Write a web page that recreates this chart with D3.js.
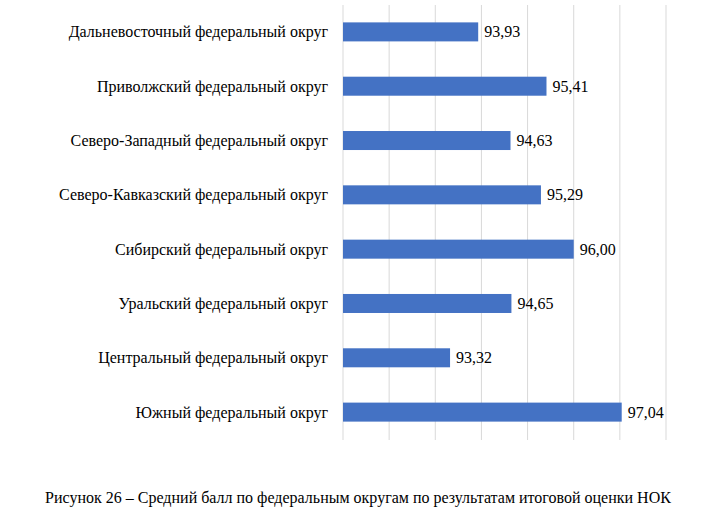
<!DOCTYPE html>
<html><head><meta charset="utf-8">
<script src="https://cdn.jsdelivr.net/npm/d3@7"></script>
<style>body{margin:0;background:#fff}text{font-family:'Liberation Serif',Tinos,'DejaVu Serif',serif;fill:#000}</style>
</head><body><svg id="c" width="722" height="532"></svg>
<script>
const regions = ["Дальневосточный федеральный округ","Приволжский федеральный округ","Северо-Западный федеральный округ","Северо-Кавказский федеральный округ","Сибирский федеральный округ","Уральский федеральный округ","Центральный федеральный округ","Южный федеральный округ"];
const scores = [93.93,95.41,94.63,95.29,96.00,94.65,93.32,97.04];
const ticks = [91,92,93,94,95,96,97,98];

const svg = d3.select("#c");
const x = d3.scaleLinear().domain([91,98]).range([343,666]);
const y = d3.scaleBand().domain(regions).range([5,439]).paddingInner(0.65).paddingOuter(0.32);

// grid
svg.selectAll("line.g").data(ticks).join("line")
  .attr("x1",d=>x(d)).attr("x2",d=>x(d)).attr("y1",5).attr("y2",440)
  .attr("stroke","#d9d9d9").attr("stroke-width",1);

svg.selectAll("rect").data(regions).join("rect")
  .attr("x",x(91)).attr("y",d=>y(d)).attr("height",y.bandwidth())
  .attr("width",(d,i)=>x(scores[i])-x(91)).attr("fill","#4472c4");

svg.selectAll("text.v").data(regions).join("text")
  .attr("x",(d,i)=>x(scores[i])+6).attr("y",d=>y(d)+y.bandwidth()/2)
  .attr("dy","0.35em").attr("font-size",16)
  .text((d,i)=>scores[i].toFixed(2).replace(".",","));

svg.selectAll("text.l").data(regions).join("text")
  .attr("x",328).attr("y",d=>y(d)+y.bandwidth()/2)
  .attr("dy","0.35em").attr("text-anchor","end").attr("font-size",16)
  .text(d=>d);

svg.append("text").attr("x",358).attr("y",503).attr("text-anchor","middle")
  .attr("font-size",16).text("Рисунок 26 – Средний балл по федеральным округам по результатам итоговой оценки НОК");
</script></body></html>
